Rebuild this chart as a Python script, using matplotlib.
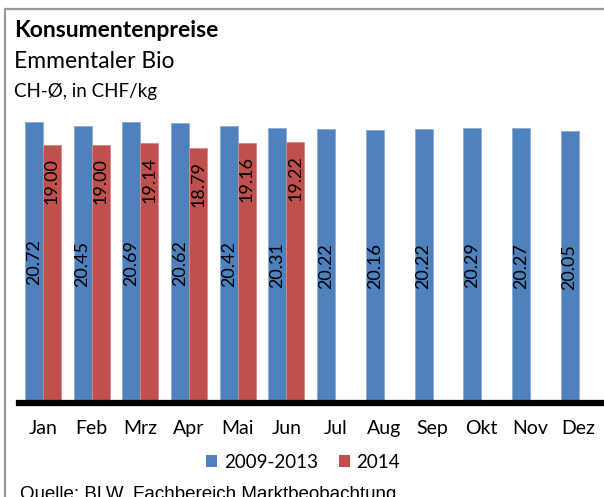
import matplotlib
matplotlib.use("Agg")
import matplotlib.pyplot as plt
from matplotlib.patches import Rectangle, Patch
import numpy as np

months = ["Jan", "Feb", "Mrz", "Apr", "Mai", "Jun", "Jul", "Aug", "Sep", "Okt", "Nov", "Dez"]
avg_2009_2013 = [20.72, 20.45, 20.69, 20.62, 20.42, 20.31, 20.22, 20.16, 20.22, 20.29, 20.27, 20.05]
year_2014 = [19.00, 19.00, 19.14, 18.79, 19.16, 19.22]

BLUE = "#4F81BD"
RED = "#C0504D"
FONT = "Lato"

W, H = 604, 497
fig = plt.figure(figsize=(W / 100, H / 100), dpi=100)
fig.patch.set_facecolor("white")


def fx(px):
    return px / W


def fy(py):
    return 1 - py / H


# outer chart frame (only left and top edges are within the canvas)
fig.add_artist(Rectangle((fx(4.5), fy(560)), fx(700), fy(8.5) - fy(560),
                         transform=fig.transFigure, fill=False,
                         edgecolor="#9a9a9a", linewidth=1.6))

ax = fig.add_axes([fx(18.6), fy(403), fx(584.4), fy(104.7) - fy(403)])
x = np.arange(len(months))
bw = 0.37

ax.bar(x - bw / 2, avg_2009_2013, width=bw, color=BLUE,
       edgecolor="#8eaad6", linewidth=0.6, zorder=2)
x2 = x[:len(year_2014)]
ax.bar(x2 + bw / 2, year_2014, width=bw, color=RED,
       edgecolor="#d98a88", linewidth=0.6, zorder=2)

# value labels: centred for the 5-year average, inside end for 2014
for xi, v in zip(x, avg_2009_2013):
    ax.text(xi - bw / 2, v / 2, f"{v:.2f}", rotation=90, ha="center", va="center",
            fontsize=13, family=FONT, color="black", zorder=3)
for xi, v in zip(x2, year_2014):
    ax.annotate(f"{v:.2f}", (xi + bw / 2, v), xytext=(0, -9.5), textcoords="offset points",
                rotation=90, ha="center", va="top", fontsize=13, family=FONT,
                color="black", zorder=3)

ax.set_xlim(-0.5, len(months) - 0.5)
ax.set_ylim(0, 22)
ax.set_yticks([])
ax.set_xticks(x)
ax.set_xticklabels(months, family=FONT, fontsize=14)
ax.tick_params(axis="x", length=0, pad=12)
for s in ["left", "right", "top"]:
    ax.spines[s].set_visible(False)
ax.spines["bottom"].set_linewidth(4.5)
ax.spines["bottom"].set_color("black")
ax.spines["bottom"].set_zorder(4)
ax.set_facecolor("none")

# titles
fig.text(fx(14), fy(37), "Konsumentenpreise", family=FONT, fontweight="bold",
         fontsize=16.5, va="baseline", ha="left")
fig.text(fx(14), fy(68), "Emmentaler Bio", family=FONT, fontsize=16.5,
         va="baseline", ha="left")
fig.text(fx(14), fy(97), "CH-Ø, in CHF/kg", family=FONT, fontsize=13.5,
         va="baseline", ha="left")

# legend
handles = [Patch(facecolor=BLUE, edgecolor="none"), Patch(facecolor=RED, edgecolor="none")]
fig.legend(handles, ["2009-2013", "2014"], loc="center", bbox_to_anchor=(fx(303), fy(462)),
           ncol=2, frameon=False, prop={"family": FONT, "size": 13.5},
           handlelength=0.6, handleheight=0.6, handletextpad=0.35, columnspacing=1.1)

# source line (runs off the bottom of the canvas)
fig.text(fx(20), fy(486), "Quelle: BLW, Fachbereich Marktbeobachtung",
         family="Liberation Sans", fontsize=13.5, va="top", ha="left")

fig.savefig("out.png", dpi=100)
